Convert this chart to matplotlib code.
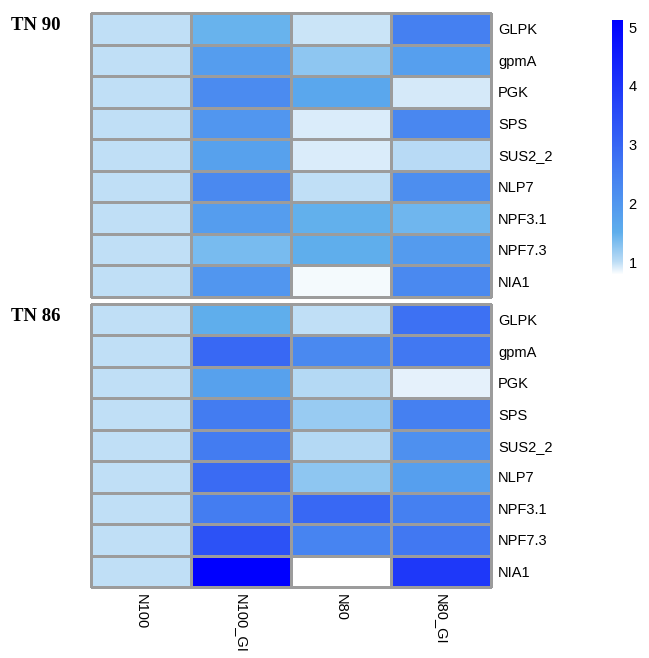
import numpy as np
import matplotlib.pyplot as plt
from matplotlib.colors import LinearSegmentedColormap, Normalize
from matplotlib.cm import ScalarMappable

plt.rcParams['font.family'] = ['Liberation Sans', 'DejaVu Sans']

# expression relative to N100
genes = ["GLPK", "gpmA", "PGK", "SPS", "SUS2_2", "NLP7", "NPF3.1", "NPF7.3", "NIA1"]
samples = ["N100", "N100_GI", "N80", "N80_GI"]

tn90 = np.array([
    [1.00, 1.45, 0.96, 2.47],
    [1.00, 1.86, 1.25, 1.82],
    [1.00, 2.23, 1.66, 0.92],
    [1.00, 2.01, 0.90, 2.31],
    [1.00, 1.78, 0.91, 1.02],
    [1.00, 2.28, 0.99, 2.16],
    [1.00, 1.86, 1.49, 1.42],
    [1.00, 1.37, 1.50, 1.89],
    [1.00, 2.01, 0.82, 2.28],
])

tn86 = np.array([
    [1.00, 1.50, 1.00, 2.77],
    [1.00, 2.96, 2.28, 2.62],
    [1.00, 1.78, 1.05, 0.87],
    [1.00, 2.54, 1.20, 2.47],
    [1.00, 2.54, 1.04, 2.12],
    [1.00, 2.89, 1.25, 1.82],
    [1.00, 2.51, 2.96, 2.47],
    [1.00, 3.42, 2.39, 2.62],
    [1.00, 5.12, 0.78, 3.95],
])

panels = ["TN 90", "TN 86"]

vmin = min(tn90.min(), tn86.min())
vmax = max(tn90.max(), tn86.max())
span = vmax - vmin
cmap = LinearSegmentedColormap.from_list("wb", [
    (0.0, "#ffffff"),
    ((1.0 - vmin) / span, "#bbdcf5"),
    ((1.5 - vmin) / span, "#5eaeec"),
    (1.0, "#0000ff"),
], N=256)
norm = Normalize(vmin=vmin, vmax=vmax)

W, H = 649, 658
fig = plt.figure(figsize=(W / 100, H / 100), dpi=100)


def box(l, t, r, b):
    return [l / W, 1 - b / H, (r - l) / W, (b - t) / H]


frames = [(13, 297), (304, 587)]
for k, (name, data) in enumerate(zip(panels, [tn90, tn86])):
    top, bot = frames[k]
    ax = fig.add_axes(box(91, top, 491, bot))
    mesh = ax.pcolormesh(data, cmap=cmap, norm=norm,
                         edgecolors="#9c9c9c", linewidth=0.9)
    mesh.set_clip_on(False)
    ax.set_xlim(0, len(samples))
    ax.set_ylim(len(genes), 0)
    ax.yaxis.tick_right()
    ax.set_yticks(np.arange(len(genes)) + 0.5)
    ax.set_yticklabels(genes, fontsize=10.5)
    ax.tick_params(length=0, pad=5)
    for s in ax.spines.values():
        s.set_visible(False)
    if k == 1:
        ax.set_xticks(np.arange(len(samples)) + 0.5)
        ax.set_xticklabels(samples, rotation=-90, fontsize=10.5, va="top", ha="center")
        ax.tick_params(axis="x", pad=5)
    else:
        ax.set_xticks([])
    fig.text(11 / W, 1 - (top + 13) / H, name, family="Liberation Serif",
             fontweight="bold", fontsize=13.5, va="center", ha="left")

# legend bar
cax = fig.add_axes(box(612, 20, 623, 275))
cb = fig.colorbar(ScalarMappable(norm=norm, cmap=cmap), cax=cax, ticks=[1, 2, 3, 4, 5])
cb.outline.set_visible(False)
cax.tick_params(length=0, labelsize=10.5, pad=4)

fig.savefig("out.png", dpi=100)
